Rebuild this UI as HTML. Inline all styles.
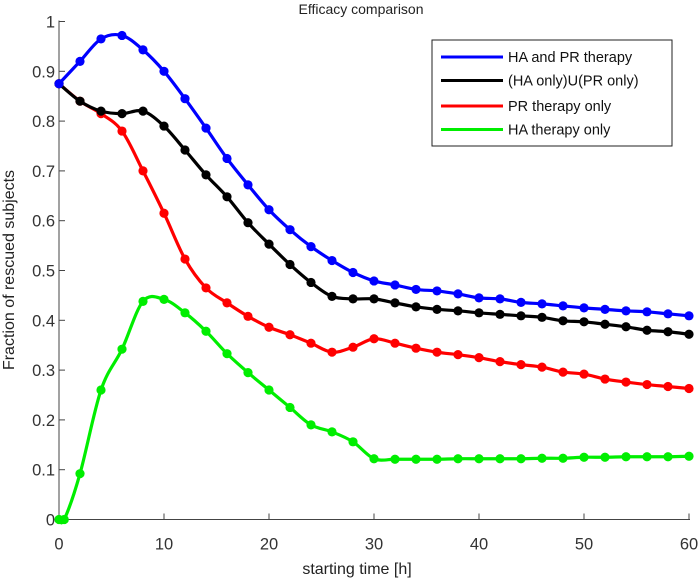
<!DOCTYPE html>
<html><head><meta charset="utf-8"><style>
html,body{margin:0;padding:0;background:#fff;}
svg{display:block;font-family:"Liberation Sans",sans-serif;}
</style></head><body>
<svg id="chart" width="700" height="579" viewBox="0 0 700 579">
<text x="361" y="14" font-size="14" text-anchor="middle" fill="#222">Efficacy comparison</text>
<g id="axes"></g>
<g id="series"></g>
<text x="357" y="574" font-size="16" text-anchor="middle" fill="#222">starting time [h]</text>
<text transform="translate(14,270) rotate(-90)" font-size="16" text-anchor="middle" fill="#222">Fraction of rescued subjects</text>
<g>
<rect x="432" y="40" width="240" height="106" fill="#fff" stroke="#222" stroke-width="1"/>
<line x1="441" y1="57" x2="503" y2="57" stroke="#0000ff" stroke-width="3"/>
<text x="508" y="62" font-size="14.5" fill="#111">HA and PR therapy</text>
<line x1="441" y1="80.5" x2="503" y2="80.5" stroke="#000" stroke-width="3"/>
<text x="508" y="85.5" font-size="14.5" fill="#111">(HA only)U(PR only)</text>
<line x1="441" y1="106" x2="503" y2="106" stroke="#ff0000" stroke-width="3"/>
<text x="508" y="111" font-size="14.5" fill="#111">PR therapy only</text>
<line x1="441" y1="129.5" x2="503" y2="129.5" stroke="#00ee00" stroke-width="3"/>
<text x="508" y="134.5" font-size="14.5" fill="#111">HA therapy only</text>
</g>
</svg>
<script>
const xTicks = [0,10,20,30,40,50,60];
const yTicks = [0,0.1,0.2,0.3,0.4,0.5,0.6,0.7,0.8,0.9,1];
const yTickLabels = ["0","0.1","0.2","0.3","0.4","0.5","0.6","0.7","0.8","0.9","1"];
const times = [0,2,4,6,8,10,12,14,16,18,20,22,24,26,28,30,32,34,36,38,40,42,44,46,48,50,52,54,56,58,60];
const blueVals = [0.875,0.92,0.965,0.972,0.943,0.9,0.845,0.786,0.725,0.672,0.622,0.582,0.548,0.52,0.496,0.479,0.471,0.462,0.459,0.453,0.445,0.443,0.436,0.433,0.429,0.425,0.422,0.419,0.417,0.413,0.409];
const blackVals = [0.875,0.84,0.82,0.815,0.82,0.79,0.742,0.692,0.648,0.596,0.553,0.512,0.476,0.448,0.443,0.443,0.435,0.427,0.422,0.419,0.415,0.412,0.409,0.406,0.399,0.397,0.392,0.387,0.38,0.377,0.372];
const redVals = [0.875,0.84,0.815,0.78,0.7,0.615,0.523,0.465,0.435,0.408,0.386,0.371,0.354,0.336,0.346,0.363,0.354,0.344,0.336,0.331,0.325,0.317,0.311,0.306,0.296,0.292,0.282,0.276,0.271,0.267,0.263];
const greenTimes = [0,0.5,2,4,6,8,10,12,14,16,18,20,22,24,26,28,30,32,34,36,38,40,42,44,46,48,50,52,54,56,58,60];
const greenVals = [0,0,0.092,0.26,0.342,0.438,0.442,0.415,0.378,0.333,0.295,0.26,0.225,0.19,0.176,0.156,0.122,0.121,0.121,0.121,0.122,0.122,0.122,0.122,0.123,0.123,0.125,0.125,0.126,0.126,0.126,0.127];

const X0=59, X1=689, Y0=519.5, Y1=21.5;
function xs(v){return X0+(v-0)/60*(X1-X0);}
function ys(v){return Y0-(v-0)/1*(Y0-Y1);}
const NS="http://www.w3.org/2000/svg";
function mk(tag,attrs,parent){const e=document.createElementNS(NS,tag);for(const k in attrs)e.setAttribute(k,attrs[k]);parent.appendChild(e);return e;}
const axes=document.getElementById('axes');
const ax1=mk('line',{x1:X0,y1:Y1-1,x2:X0,y2:Y0,stroke:'#444','stroke-width':1},axes);


const ax2=mk('line',{x1:X0,y1:Y0,x2:X1+1,y2:Y0,stroke:'#444','stroke-width':1},axes);


xTicks.forEach(t=>{
  mk('line',{x1:xs(t),y1:Y0,x2:xs(t),y2:Y0-6,stroke:'#444'},axes);
  const tx=mk('text',{x:xs(t),y:Y0+30,'font-size':16.5,'text-anchor':'middle',fill:'#333'},axes);
  tx.textContent=t;
  
  
});
yTicks.forEach((t,i)=>{
  mk('line',{x1:X0,y1:ys(t),x2:X0+6,y2:ys(t),stroke:'#444'},axes);
  const tx=mk('text',{x:X0-4,y:ys(t)+6,'font-size':16.5,'text-anchor':'end',fill:'#333'},axes);
  tx.textContent=yTickLabels[i];
  
  
});
function pathFor(pts){
  let d='M'+pts[0][0]+','+pts[0][1];
  for(let i=0;i<pts.length-1;i++){
    const p0=pts[Math.max(0,i-1)],p1=pts[i],p2=pts[i+1],p3=pts[Math.min(pts.length-1,i+2)];
    const c1x=p1[0]+(p2[0]-p0[0])/6,c1y=p1[1]+(p2[1]-p0[1])/6;
    const c2x=p2[0]-(p3[0]-p1[0])/6,c2y=p2[1]-(p3[1]-p1[1])/6;
    d+=' C'+c1x+','+c1y+' '+c2x+','+c2y+' '+p2[0]+','+p2[1];
  }
  return d;
}
const series=document.getElementById('series');
function draw(tArr,vals,color,name){
  const g=mk('g',{},series);
  
  
  const pts=tArr.map((t,i)=>[xs(t),ys(vals[i])]);
  const p=mk('path',{d:pathFor(pts),fill:'none',stroke:color,'stroke-width':3.2,'stroke-linejoin':'round'},g);
  
  
  pts.forEach(q=>{
    const c=mk('circle',{cx:q[0],cy:q[1],r:4.6,fill:color},g);
    
    
  });
}
draw(greenTimes,greenVals,'#00ee00','series-ha-only');
draw(times,redVals,'#ff0000','series-pr-only');
draw(times,blackVals,'#000000','series-union');
draw(times,blueVals,'#0000ff','series-ha-and-pr');
</script>
</body></html>
